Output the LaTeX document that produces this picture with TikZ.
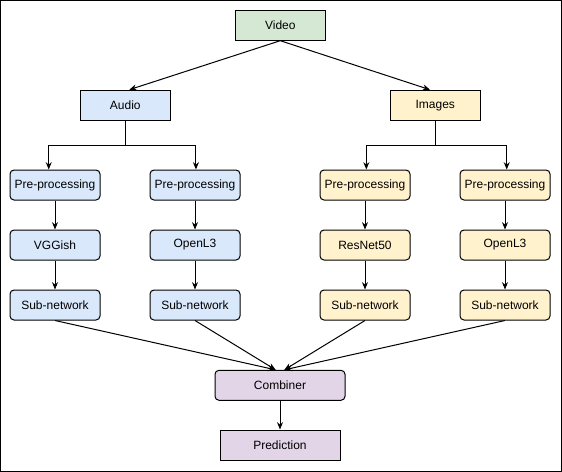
\documentclass[tikz,border=0pt]{standalone}
\usepackage{fontspec}
\setmainfont{Liberation Sans}
\usepackage{xcolor}
\usepackage{tikz}
\usetikzlibrary{shapes, arrows, positioning, arrows.meta}

\definecolor{verde}{HTML}{D5E8D4}
\definecolor{azul}{HTML}{DAE8FC}
\definecolor{amarillo}{HTML}{FFF2CC}
\definecolor{morado}{HTML}{E1D5E7}

\tikzset{
    caja/.style={draw, line width=0.75pt, minimum width=67.5pt, minimum height=22.5pt,
        inner sep=0pt, font=\fontsize{9}{11}\selectfont},
    cajar/.style={caja, rounded corners=3pt},
    flecha/.style={line width=0.75pt, -{Stealth[length=5.5pt, width=4.5pt]}}
}

\begin{document}
\begin{tikzpicture}[x=0.75pt, y=-0.75pt]
        \useasboundingbox (0,0) rectangle (562,472);
        % Marco exterior
        \draw[line width=0.75pt] (0.5,0.5) rectangle (561.5,471.5);
        % Entrada y ramas
        \node[caja, fill=verde] (video) at (280.3,25.2) {Video};
        \node[caja, fill=azul] (audio) at (125.3,105.2) {Audio};
        \node[caja, fill=amarillo] (imagenes) at (435.3,105.2) {Images};
        \draw[flecha] (video.south) -- ([xshift=3]audio.north);
        \draw[flecha] (video.south) -- ([xshift=-4]imagenes.north);
        % Columnas de cada rama
        \foreach \i/\x/\col/\modelo in {1/55/azul/VGGish, 2/195/azul/OpenL3, 3/365/amarillo/ResNet50, 4/505/amarillo/OpenL3} {
            \node[cajar, fill=\col] (pre\i) at (\x,185) {Pre-processing};
            \node[cajar, fill=\col] (red\i) at (\x,245) {\modelo};
            \node[cajar, fill=\col] (sub\i) at (\x,305) {Sub-network};
            \draw[flecha] (pre\i) -- (red\i);
            \draw[flecha] (red\i) -- (sub\i);
        }
        % Conexiones en codo
        \draw[flecha] (audio.south) -- ++(0,25) -| ([xshift=-4.7]pre1.north);
        \draw[flecha] (audio.south) -- ++(0,25) -| ([xshift=0.7]pre2.north);
        \draw[flecha] (imagenes.south) -- ++(0,25) -| ([xshift=1]pre3.north);
        \draw[flecha] (imagenes.south) -- ++(0,25) -| ([xshift=1.3]pre4.north);
        % Combinador y prediccion
        \node[cajar, fill=morado, minimum width=97.5pt] (comb) at (280,385.3) {Combiner};
        \node[caja, fill=morado, minimum width=90pt] (pred) at (280,445) {Prediction};
        \draw[flecha] (sub1.south) -- ([xshift=-3.3]comb.north);
        \draw[flecha] (sub2.south) -- ([xshift=-3.3]comb.north);
        \draw[flecha] (sub3.south) -- ([xshift=3.3]comb.north);
        \draw[flecha] (sub4.south) -- ([xshift=3.3]comb.north);
        \draw[flecha] (comb) -- (pred);
    \end{tikzpicture}
\end{document}
